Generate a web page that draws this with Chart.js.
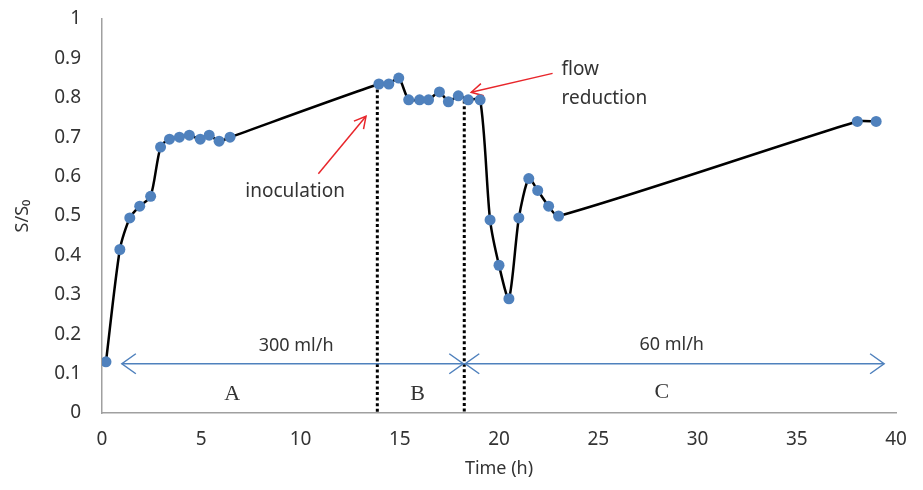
<!DOCTYPE html>
<html>
<head>
<meta charset="utf-8">
<script src="https://cdn.jsdelivr.net/npm/chart.js@4.4.1/dist/chart.umd.min.js"></script>
<style>
  html, body { margin: 0; padding: 0; background: #fff; }
  #wrap { width: 923px; height: 490px; }
</style>
</head>
<body>
<div id="wrap"><canvas id="lineChart"></canvas></div>
<script>
// substrate ratio over time
const timeH = [0.2, 0.9, 1.4, 1.9, 2.45, 2.95, 3.4, 3.9, 4.4, 4.95, 5.4, 5.9, 6.45,
               13.95, 14.45, 14.95, 15.45, 16.0, 16.45, 17.0, 17.45, 17.95, 18.45, 19.05,
               19.55, 20.0, 20.5, 21.0, 21.5, 21.95, 22.5, 23.0, 38.05, 39.0];
const ratio = [0.13, 0.415, 0.495, 0.525, 0.55, 0.675, 0.695, 0.7, 0.705, 0.695, 0.705, 0.69, 0.7,
               0.835, 0.835, 0.85, 0.795, 0.795, 0.795, 0.815, 0.79, 0.805, 0.795, 0.795,
               0.49, 0.375, 0.29, 0.495, 0.595, 0.565, 0.525, 0.5, 0.74, 0.74];

const xTicks = [0, 5, 10, 15, 20, 25, 30, 35, 40];
const yTicks = [0, 0.1, 0.2, 0.3, 0.4, 0.5, 0.6, 0.7, 0.8, 0.9, 1];

// phase boundaries (h) and where the dotted lines stop
const phaseBounds = [13.87, 18.25];
const phaseTops = [0.835, 0.793];
const flowLabels = ['300 ml/h', '60 ml/h'];
const phaseLabels = ['A', 'B', 'C'];

const pts = timeH.map((t, i) => ({ x: t, y: ratio[i] }));
const FONT = "'Noto Sans', sans-serif";

function arrowHead(ctx, x, y, dir) {
    // open V head, dir = 1 points right, -1 points left
    ctx.beginPath();
    ctx.moveTo(x - dir * 14, y - 10);
    ctx.lineTo(x, y);
    ctx.lineTo(x - dir * 14, y + 10);
    ctx.stroke();
}

const annotations = {
    id: 'annotations',
    beforeDatasetsDraw(chart) {
        const ctx = chart.ctx;
        const xs = chart.scales.x, ys = chart.scales.y;
        const px = v => xs.getPixelForValue(v);
        const py = v => ys.getPixelForValue(v);
        ctx.save();

        // dotted phase lines
        ctx.strokeStyle = '#000';
        ctx.lineWidth = 3;
        ctx.setLineDash([3, 2.6]);
        phaseBounds.forEach((b, i) => {
            ctx.beginPath();
            ctx.moveTo(px(b), py(phaseTops[i]));
            ctx.lineTo(px(b), py(0));
            ctx.stroke();
        });
        ctx.setLineDash([]);

        // flow arrows
        const ay = py(0.125);
        ctx.strokeStyle = '#4f81bd';
        ctx.lineWidth = 1.5;
        ctx.beginPath();
        ctx.moveTo(px(1.0), ay);
        ctx.lineTo(px(39.4), ay);
        ctx.stroke();
        arrowHead(ctx, px(1.0), ay, -1);
        arrowHead(ctx, px(phaseBounds[1]) - 1, ay, 1);
        arrowHead(ctx, px(phaseBounds[1]) + 1, ay, -1);
        arrowHead(ctx, px(39.4), ay, 1);

        // red pointers
        ctx.strokeStyle = '#e8262b';
        ctx.lineWidth = 1.5;
        const pointer = (x0, y0, x1, y1) => {
            const a = Math.atan2(py(y1) - py(y0), px(x1) - px(x0));
            ctx.beginPath();
            ctx.moveTo(px(x0), py(y0));
            ctx.lineTo(px(x1), py(y1));
            ctx.stroke();
            ctx.beginPath();
            ctx.moveTo(px(x1) - 13 * Math.cos(a - 0.5), py(y1) - 13 * Math.sin(a - 0.5));
            ctx.lineTo(px(x1), py(y1));
            ctx.lineTo(px(x1) - 13 * Math.cos(a + 0.5), py(y1) - 13 * Math.sin(a + 0.5));
            ctx.stroke();
        };
        pointer(10.9, 0.607, 13.3, 0.753);
        pointer(22.7, 0.862, 18.6, 0.814);

        // texts
        ctx.fillStyle = '#333';
        ctx.textBaseline = 'middle';
        ctx.font = '19px ' + FONT;
        ctx.textAlign = 'center';
        ctx.fillText('inoculation', px(9.73), py(0.561));
        ctx.textAlign = 'left';
        ctx.fillText('flow', px(23.15), py(0.872));
        ctx.fillText('reduction', px(23.15), py(0.797));
        ctx.textAlign = 'center';
        ctx.font = '18px ' + FONT;
        ctx.fillText(flowLabels[0], px(9.78), py(0.171));
        ctx.fillText(flowLabels[1], px(28.7), py(0.173));
        ctx.font = "22px 'Liberation Serif', serif";
        ctx.fillText(phaseLabels[0], px(6.56), py(0.048));
        ctx.fillText(phaseLabels[1], px(15.9), py(0.048));
        ctx.fillText(phaseLabels[2], px(28.2), py(0.052));
        ctx.restore();
    }
};

new Chart(document.getElementById('lineChart'), {
    type: 'line',
    data: {
        datasets: [{
            data: pts,
            borderColor: '#000',
            borderWidth: 2.5,
            tension: 0.25,
            pointRadius: 5.5,
            pointHoverRadius: 5.5,
            pointBackgroundColor: '#4f81bd',
            pointBorderWidth: 0
        }]
    },
    options: {
        responsive: true,
        maintainAspectRatio: false,
        animation: false,
        layout: { padding: { top: 19, right: 27, left: 0, bottom: 0 } },
        plugins: {
            legend: { display: false },
            tooltip: { enabled: false }
        },
        scales: {
            x: {
                type: 'linear',
                min: 0, max: 40,
                afterBuildTicks: s => { s.ticks = xTicks.map(v => ({ value: v })); },
                grid: { display: false, drawTicks: false },
                border: { color: '#a0a0a0', width: 1.5 },
                ticks: { color: '#333', padding: 15, font: { family: FONT, size: 19 } },
                title: { display: true, text: 'Time (h)', color: '#333', padding: { top: 0, bottom: 10 },
                         font: { family: FONT, size: 18 } },
                afterFit: s => { s.height = 77; s.paddingLeft = 0; s.paddingRight = 0; }
            },
            y: {
                min: 0, max: 1,
                afterBuildTicks: s => { s.ticks = yTicks.map(v => ({ value: v })); },
                grid: { display: false, drawTicks: false },
                border: { color: '#a0a0a0', width: 1.5 },
                ticks: { color: '#333', padding: 21, font: { family: FONT, size: 19 },
                         callback: v => String(Math.round(v * 10) / 10) },
                title: { display: true, text: 'S/S₀', color: '#333', padding: { top: 12, bottom: 0 },
                         font: { family: FONT, size: 18 } },
                afterFit: s => { s.width = 102; s.paddingTop = 0; s.paddingBottom = 0; }
            }
        }
    },
    plugins: [annotations]
});
</script>
</body>
</html>
